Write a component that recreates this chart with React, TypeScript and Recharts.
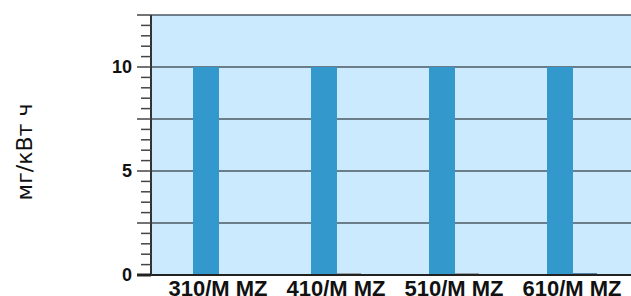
import { BarChart, Bar, XAxis, YAxis, CartesianGrid, Cell } from "recharts";

// engine models along the x axis
const models = ["310/M MZ", "410/M MZ", "510/M MZ", "610/M MZ"];
// main emission value per model, mg/kWh
const mainValues = [10, 10, 10, 10];
// barely visible second series near zero
const smallValues = [0, 0.08, 0.08, 0.08];
const smallColors = ["#7a7a7a", "#7a7a7a", "#7a7a7a", "#1d4f7f"];

const yTicks = [
  0, 0.5, 1, 1.5, 2, 2.5, 3, 3.5, 4, 4.5, 5, 5.5, 6, 6.5, 7, 7.5, 8, 8.5, 9,
  9.5, 10, 10.5, 11, 11.5, 12, 12.5,
];
const yLabels = [0, 5, 10];
const gridValues = [2.5, 5, 7.5, 10, 12.5];
const yTitle = "мг/кВт ч";

const data = models.map((name, i) => ({
  name,
  main: mainValues[i],
  small: smallValues[i],
}));

const YTick = ({ x, y, payload }: any) => {
  const v = payload.value;
  const major = v % 2.5 === 0;
  const len = major ? 14 : 10;
  return (
    <g>
      <line
        x1={x - len}
        x2={x}
        y1={y}
        y2={y}
        stroke={v === 0 ? "#222" : "#444"}
        strokeWidth={v === 0 ? 3 : 1.5}
      />
      {yLabels.includes(v) && (
        <text
          x={x - 19}
          y={y}
          dy="0.36em"
          textAnchor="end"
          fontSize={18}
          fontWeight="bold"
          fontFamily="Liberation Sans, Arial, sans-serif"
          fill="#111"
        >
          {v}
        </text>
      )}
    </g>
  );
};

const XTick = ({ x, y, payload }: any) => (
  <text
    x={x}
    y={y}
    dy="0.72em"
    textAnchor="middle"
    fontSize={22}
    fontWeight="bold"
    fontFamily="Liberation Sans, Arial, sans-serif"
    fill="#111"
  >
    {payload.value}
  </text>
);

// rotated axis title, baseline on the right of the glyphs
const YTitle = ({ viewBox }: any) => {
  const cx = 32;
  const cy = viewBox.y + viewBox.height / 2 + 7;
  return (
    <text
      x={cx}
      y={cy}
      transform={`rotate(-90, ${cx}, ${cy})`}
      textAnchor="middle"
      fontSize={22}
      fontFamily="DejaVu Sans, sans-serif"
      fill="#111"
    >
      {yTitle}
    </text>
  );
};

export default function App() {
  return (
    <div style={{ position: "absolute", left: 0, top: 0, width: 631, height: 296 }}>
      <BarChart
        width={631}
        height={296}
        data={data}
        margin={{ top: 15, right: 0, bottom: 0, left: 0 }}
        barGap={0}
      >
        <CartesianGrid
          vertical={false}
          horizontalValues={gridValues}
          fill="#cceafd"
          fillOpacity={1}
          stroke="#4d5863"
          strokeWidth={1.5}
        />
        <XAxis
          dataKey="name"
          height={21}
          padding={{ left: 8, right: 0 }}
          tickLine={false}
          tickSize={0}
          tickMargin={5}
          interval={0}
          axisLine={{ stroke: "#222", strokeWidth: 2 }}
          tick={<XTick />}
        />
        <YAxis
          width={151}
          domain={[0, 12.5]}
          ticks={yTicks}
          interval={0}
          tickLine={false}
          tickSize={0}
          tickMargin={0}
          axisLine={{ stroke: "#333", strokeWidth: 2 }}
          tick={<YTick />}
          label={<YTitle />}
        />
        <Bar dataKey="main" fill="#3399cc" barSize={26} isAnimationActive={false} />
        <Bar dataKey="small" barSize={24} isAnimationActive={false}>
          {smallColors.map((c, i) => (
            <Cell key={i} fill={c} />
          ))}
        </Bar>
      </BarChart>
    </div>
  );
}
